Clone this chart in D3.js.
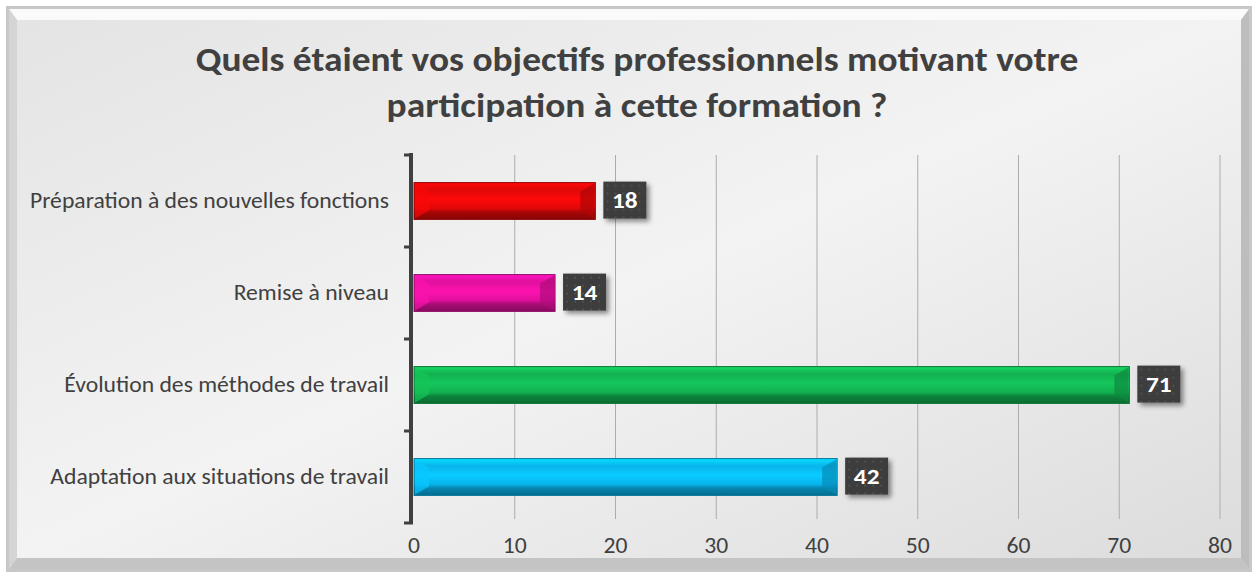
<!DOCTYPE html>
<html>
<head>
<meta charset="utf-8">
<script src="https://cdn.jsdelivr.net/npm/d3@7"></script>
<style>
  body { margin: 0; background: #fff; }
  svg { display: block; font-family: Calibri, Carlito, "Open Sans", sans-serif; }
</style>
</head>
<body>
<svg id="svg" width="1258" height="578"></svg>
<script>
const titleLines = ['Quels étaient vos objectifs professionnels motivant votre', 'participation à cette formation ?'];
const categories = ['Préparation à des nouvelles fonctions', 'Remise à niveau', 'Évolution des méthodes de travail', 'Adaptation aux situations de travail'];
const values = [18, 14, 71, 42];
const colors = ['#e00808', '#e0109c', '#12b050', '#08b4ec'];
const xTicks = [0, 10, 20, 30, 40, 50, 60, 70, 80];

const stretch = 1.1; // the reference text is a bit wide
const place = (px, py) => `translate(${px},${py}) scale(${stretch},1)`;

const svg = d3.select('#svg');
const defs = svg.append('defs');

// frame background
const bg = defs.append('linearGradient').attr('id', 'bg').attr('x1', 0).attr('y1', 0).attr('x2', 1).attr('y2', 1);
bg.append('stop').attr('offset', 0).attr('stop-color', '#e4e4e4');
bg.append('stop').attr('offset', 0.5).attr('stop-color', '#f3f3f3');
bg.append('stop').attr('offset', 1).attr('stop-color', '#dcdcdc');

const dots = defs.append('pattern').attr('id', 'dots').attr('width', 8).attr('height', 8).attr('patternUnits', 'userSpaceOnUse');
dots.append('rect').attr('width', 8).attr('height', 8).attr('fill', '#3c3c3c');
dots.append('circle').attr('cx', 4).attr('cy', 4).attr('r', 1).attr('fill', '#555');

const shadow = defs.append('filter').attr('id', 'shadow').attr('x', '-20%').attr('y', '-20%').attr('width', '150%').attr('height', '150%');
shadow.append('feDropShadow').attr('dx', 3).attr('dy', 3).attr('stdDeviation', 2.5).attr('flood-color', '#000').attr('flood-opacity', 0.45);

colors.forEach((c, i) => {
  const g = defs.append('linearGradient').attr('id', 'bar' + i).attr('x1', 0).attr('y1', 0).attr('x2', 0).attr('y2', 1);
  const col = d3.color(c);
  g.append('stop').attr('offset', 0).attr('stop-color', col.brighter(0.6));
  g.append('stop').attr('offset', 0.2).attr('stop-color', c);
  g.append('stop').attr('offset', 0.45).attr('stop-color', col.brighter(0.35));
  g.append('stop').attr('offset', 0.7).attr('stop-color', c);
  g.append('stop').attr('offset', 0.8).attr('stop-color', col.darker(0.8));
  g.append('stop').attr('offset', 1).attr('stop-color', col.darker(1.4));
});

// outer frame with bevel
svg.append('rect').attr('x', 6).attr('y', 6).attr('width', 1246).attr('height', 566).attr('fill', '#c8c8c8');
svg.append('rect').attr('x', 9).attr('y', 9).attr('width', 1240).attr('height', 560).attr('fill', 'url(#bg)');
svg.append('path').attr('d', 'M9,9 L1249,9 L1241,20 L17,20 Z').attr('fill', '#fafafa');
svg.append('path').attr('d', 'M9,9 L17,20 L17,558 L9,569 Z').attr('fill', '#d4d4d4');
svg.append('path').attr('d', 'M1249,9 L1241,20 L1241,558 L1249,569 Z').attr('fill', '#bdbdbd');
svg.append('path').attr('d', 'M9,569 L17,558 L1241,558 L1249,569 Z').attr('fill', '#c4c4c4');
svg.append('rect').attr('x', 17).attr('y', 20).attr('width', 1224).attr('height', 538).attr('fill', 'url(#bg)');

// title
svg.append('g').selectAll('text').data(titleLines).join('text')
  .attr('transform', (d, i) => place(637, 71 + i * 46)).attr('text-anchor', 'middle')
  .attr('font-size', 34).attr('font-weight', 'bold').attr('fill', '#404040').text(d => d);

const x = d3.scaleLinear().domain([0, 80]).range([414, 1220]);
const y = d3.scaleBand().domain(categories).range([155, 523]).paddingInner(0.6).paddingOuter(0.3);

// gridlines
svg.append('g').selectAll('line').data(xTicks.slice(1)).join('line')
  .attr('x1', d => x(d)).attr('x2', d => x(d)).attr('y1', 155).attr('y2', 519)
  .attr('stroke', '#acacac').attr('stroke-width', 1);

// x axis labels
svg.append('g').selectAll('text').data(xTicks).join('text')
  .attr('transform', d => place(x(d), 553)).attr('text-anchor', 'middle')
  .attr('font-size', 21.5).attr('fill', '#404040').text(d => d);

// y axis line and ticks
const boundaries = [155, 247, 339, 431, 523];
svg.append('line').attr('x1', 411).attr('x2', 411).attr('y1', 153).attr('y2', 524)
  .attr('stroke', '#404040').attr('stroke-width', 4);
svg.append('g').selectAll('line').data(boundaries).join('line')
  .attr('x1', 404).attr('x2', 413).attr('y1', d => d).attr('y2', d => d)
  .attr('stroke', '#404040').attr('stroke-width', 3);

// category labels
svg.append('g').selectAll('text').data(categories).join('text')
  .attr('transform', d => place(389, y(d) + y.bandwidth() / 2 + 7)).attr('text-anchor', 'end')
  .attr('font-size', 21.5).attr('fill', '#404040').text(d => d);

// bars
const bars = svg.append('g').selectAll('g').data(categories).join('g');
bars.append('rect')
  .attr('x', x(0)).attr('y', d => y(d))
  .attr('width', (d, i) => x(values[i]) - x(0)).attr('height', y.bandwidth())
  .attr('fill', (d, i) => `url(#bar${i})`)
  .attr('stroke', (d, i) => d3.color(colors[i]).darker(1.2)).attr('stroke-width', 1);
// bevel ends
bars.append('path')
  .attr('d', (d, i) => {
    const x1 = x(values[i]) - 1, y0 = y(d) + 1, y1 = y(d) + y.bandwidth() - 1, b = 14;
    return `M${x1},${y0} L${x1 - b},${y0 + 8} L${x1 - b},${y1 - 8} L${x1},${y1} Z`;
  })
  .attr('fill', (d, i) => d3.color(colors[i]).darker(0.7)).attr('opacity', 0.7);
bars.append('path')
  .attr('d', (d, i) => {
    const x0 = x(0) + 1, y0 = y(d) + 1, y1 = y(d) + y.bandwidth() - 1, b = 14;
    return `M${x0},${y0} L${x0 + b},${y0 + 8} L${x0 + b},${y1 - 8} L${x0},${y1} Z`;
  })
  .attr('fill', (d, i) => d3.color(colors[i]).brighter(0.3)).attr('opacity', 0.7);

// value labels
const labels = svg.append('g').selectAll('g').data(categories).join('g')
  .attr('transform', (d, i) => `translate(${x(values[i]) + 8},${y(d) - 1})`);
labels.append('rect').attr('width', 43).attr('height', 37).attr('fill', 'url(#dots)').attr('filter', 'url(#shadow)');
labels.append('text').attr('transform', `translate(21.5,26.5) scale(${stretch},1)`).attr('text-anchor', 'middle')
  .attr('font-size', 23).attr('font-weight', 'bold').attr('fill', '#fff').text((d, i) => values[i]);
</script>
</body>
</html>
